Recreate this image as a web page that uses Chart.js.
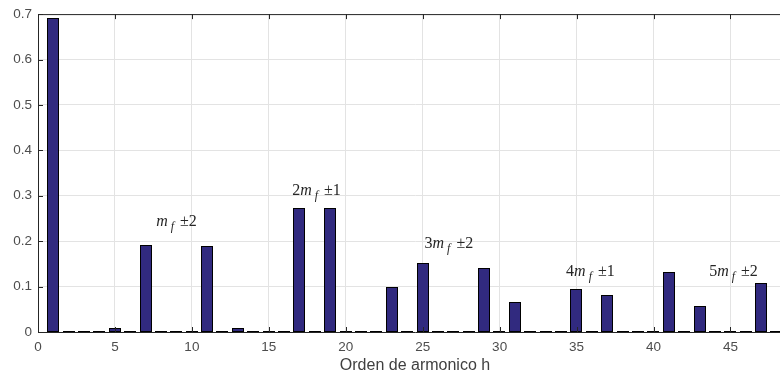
<!DOCTYPE html>
<html>
<head>
<meta charset="utf-8">
<script src="https://cdn.jsdelivr.net/npm/chart.js@4/dist/chart.umd.min.js"></script>
<style>
  html, body { margin: 0; padding: 0; background: #fff; overflow: hidden; }
  #wrap { position: absolute; left: 0; top: 0; width: 792px; height: 375px; }
</style>
</head>
<body>
<div id="wrap"><canvas id="spectrum" width="792" height="375"></canvas></div>
<script>
// Harmonic orders and their normalised amplitudes
const harmonicOrder = [
   1,  2,  3,  4,  5,  6,  7,  8,  9, 10, 11, 12, 13, 14, 15, 16,
  17, 18, 19, 20, 21, 22, 23, 24, 25, 26, 27, 28, 29, 30, 31, 32,
  33, 34, 35, 36, 37, 38, 39, 40, 41, 42, 43, 44, 45, 46, 47, 48
];
const amplitude = [
  0.692, 0.003, 0.003, 0.003, 0.008, 0.003, 0.192, 0.003, 0.003, 0.003, 0.189, 0.003, 0.008, 0.003, 0.003, 0.003,
  0.273, 0.003, 0.273, 0.003, 0.003, 0.003, 0.0996, 0.003, 0.153, 0.003, 0.003, 0.003, 0.142, 0.003, 0.065, 0.003,
  0.003, 0.003, 0.094, 0.003, 0.081, 0.003, 0.003, 0.003, 0.132, 0.003, 0.057, 0.003, 0.003, 0.003, 0.1076, 0.003
];

// Axis ticks
const xTickValues = [0, 5, 10, 15, 20, 25, 30, 35, 40, 45];
const yTickValues = [0, 0.1, 0.2, 0.3, 0.4, 0.5, 0.6, 0.7];

// Side-band group labels: k·m_f ± n
const bandMultiple = ['', '2', '3', '4', '5'];
const bandOffset   = ['±2', '±1', '±2', '±1', '±2'];
const bandLabelH     = [9.0, 18.1, 26.7, 35.9, 45.2];
const bandLabelLevel = [0.233, 0.302, 0.185, 0.124, 0.124];

const AXIS_COLOR = '#262626';
const TICK_LEN = 5;

// Snap bar edges to whole pixels so the black outlines stay crisp
const crispBars = {
  id: 'crispBars',
  beforeDatasetsDraw(chart) {
    chart.getDatasetMeta(0).data.forEach(el => {
      const w = Math.round(el.width);
      const left = Math.round(el.x - el.width / 2);
      el.width = w;
      el.x = left + w / 2;
      el.y = Math.round(el.y);
      el.base = Math.round(el.base);
    });
  }
};

// Box around the axes with inward tick marks
const axesFrame = {
  id: 'axesFrame',
  afterDraw(chart) {
    const { ctx, chartArea: a, scales } = chart;
    ctx.save();
    ctx.strokeStyle = AXIS_COLOR;
    ctx.lineWidth = 1;
    ctx.beginPath();
    ctx.moveTo(a.left, a.top + 0.5);
    ctx.lineTo(a.right, a.top + 0.5);
    ctx.moveTo(a.right - 0.5, a.top);
    ctx.lineTo(a.right - 0.5, a.bottom);
    xTickValues.forEach(v => {
      const px = Math.round(scales.x.getPixelForValue(v)) + 0.5;
      ctx.moveTo(px, a.bottom);
      ctx.lineTo(px, a.bottom - TICK_LEN);
      ctx.moveTo(px, a.top);
      ctx.lineTo(px, a.top + TICK_LEN);
    });
    yTickValues.forEach(v => {
      const py = Math.round(scales.y.getPixelForValue(v)) + 0.5;
      ctx.moveTo(a.left, py);
      ctx.lineTo(a.left + TICK_LEN, py);
      ctx.moveTo(a.right, py);
      ctx.lineTo(a.right - TICK_LEN, py);
    });
    ctx.stroke();
    ctx.restore();
  }
};

// Italic serif labels over each side-band group
const bandLabels = {
  id: 'bandLabels',
  afterDatasetsDraw(chart) {
    const { ctx, scales } = chart;
    const upright = '16px "Liberation Serif"';
    const italic = 'italic 16px "Liberation Serif"';
    const subItalic = 'italic 12px "Liberation Serif"';
    ctx.save();
    ctx.fillStyle = AXIS_COLOR;
    ctx.textBaseline = 'alphabetic';
    ctx.textAlign = 'left';
    bandMultiple.forEach((k, i) => {
      ctx.font = upright;  const wk = ctx.measureText(k).width;
      const wOff = ctx.measureText(bandOffset[i]).width;
      ctx.font = italic;   const wm = ctx.measureText('m').width;
      ctx.font = subItalic; const wf = ctx.measureText('f').width;
      const gap1 = 3, gap2 = 6;
      const total = wk + wm + gap1 + wf + gap2 + wOff;
      let x = scales.x.getPixelForValue(bandLabelH[i]) - total / 2;
      const y = scales.y.getPixelForValue(bandLabelLevel[i]);
      ctx.font = upright;   ctx.fillText(k, x, y); x += wk;
      ctx.font = italic;    ctx.fillText('m', x, y); x += wm + gap1;
      ctx.font = subItalic; ctx.fillText('f', x, y + 4); x += wf + gap2;
      ctx.font = upright;   ctx.fillText(bandOffset[i], x, y);
    });
    ctx.restore();
  }
};

const points = harmonicOrder.map((h, i) => ({ x: h, y: amplitude[i] }));

new Chart(document.getElementById('spectrum'), {
  type: 'bar',
  data: {
    datasets: [{
      data: points,
      backgroundColor: '#312a7f',
      borderColor: '#000000',
      borderWidth: 1,
      borderSkipped: false,
      barPercentage: 0.8,
      categoryPercentage: 1.0
    }]
  },
  options: {
    responsive: false,
    animation: false,
    devicePixelRatio: 1,
    layout: { padding: { top: 11, left: 0, right: 0, bottom: 0 } },
    plugins: { legend: { display: false }, tooltip: { enabled: false } },
    scales: {
      x: {
        type: 'linear',
        min: 0,
        max: 49,
        offset: false,
        afterBuildTicks: s => { s.ticks = xTickValues.map(v => ({ value: v })); },
        afterFit: s => { s.height = 43; },
        grid: { color: '#e3e3e3', drawTicks: false, offset: false, lineWidth: 1 },
        border: { display: true, color: AXIS_COLOR, width: 1 },
        ticks: {
          padding: 7,
          color: '#4d4d4d',
          maxRotation: 0,
          autoSkip: false,
          font: { family: 'Liberation Sans', size: 13.5 },
          callback: v => String(v)
        },
        title: {
          display: true,
          text: 'Orden de armonico h',
          color: '#404040',
          font: { family: 'Liberation Sans', size: 16 },
          padding: { top: 2, bottom: 0 }
        }
      },
      y: {
        min: 0,
        max: 0.7,
        afterBuildTicks: s => { s.ticks = yTickValues.map(v => ({ value: v })); },
        afterFit: s => { s.width = 38; },
        grid: { color: '#e3e3e3', drawTicks: false, lineWidth: 1 },
        border: { display: true, color: AXIS_COLOR, width: 1 },
        ticks: {
          padding: 6,
          color: '#4d4d4d',
          font: { family: 'Liberation Sans', size: 13.5 },
          callback: v => (v === 0 ? '0' : v.toFixed(1))
        }
      }
    }
  },
  plugins: [crispBars, axesFrame, bandLabels]
});
</script>
</body>
</html>
